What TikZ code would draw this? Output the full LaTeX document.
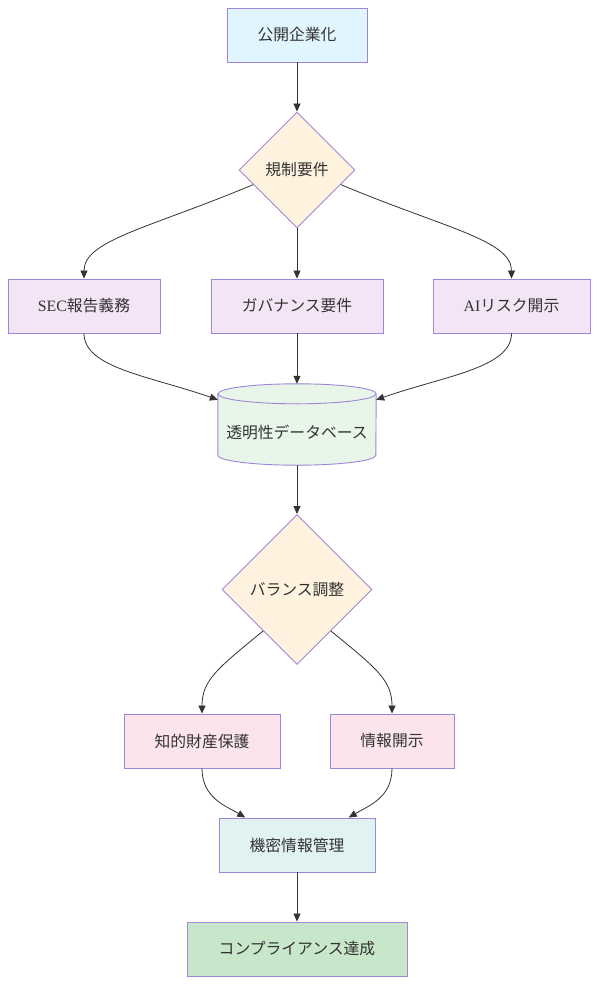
\documentclass[tikz,border=0pt]{standalone}
\usepackage{fontspec}
\setmainfont{Noto Sans CJK JP}
\newfontfamily\latinfont{Liberation Serif}
\usetikzlibrary{arrows.meta,positioning,calc,shapes.geometric}
\definecolor{edge}{HTML}{333333}
\definecolor{rim}{HTML}{9F86D8}
\definecolor{skyfill}{HTML}{E1F5FE}
\definecolor{sandfill}{HTML}{FFF3E0}
\definecolor{lilacfill}{HTML}{F3E5F5}
\definecolor{mintfill}{HTML}{E8F5E9}
\definecolor{rosefill}{HTML}{FCE4EC}
\definecolor{tealfill}{HTML}{E0F2F1}
\definecolor{leaffill}{HTML}{C8E6C9}
\tikzset{
  box/.style={draw=rim, line width=0.9pt, rectangle, align=center,
              minimum height=54pt, inner sep=4pt, text=edge,
              font=\fontsize{15.8}{18}\selectfont},
  decide/.style={draw=rim, fill=sandfill, line width=0.9pt, diamond, aspect=1,
                 inner sep=0pt, align=center, text=edge,
                 font=\fontsize{15.8}{18}\selectfont},
  flow/.style={-{Triangle[length=8pt,width=7pt]}, line width=0.8pt, draw=edge}
}
\begin{document}
\begin{tikzpicture}[x=1pt,y=-1pt]
  \useasboundingbox[fill=white] (0,0) rectangle (598,985);

  % top of the chain
  \node[box, fill=skyfill, minimum width=140pt] (ipo) at (297,35) {公開企業化};
  \node[decide, minimum width=116pt, minimum height=116pt] (reg) at (297,170) {規制要件};

  % three requirements
  \node[box, fill=lilacfill, minimum width=152pt] (sec) at (84,306) {{\latinfont SEC}報告義務};
  \node[box, fill=lilacfill, minimum width=172pt] (gov) at (297,306) {ガバナンス要件};
  \node[box, fill=lilacfill, minimum width=157pt] (aidisc) at (511.5,306) {{\latinfont AI}リスク開示};

  % database
  \node[minimum width=158pt, minimum height=81pt, inner sep=0pt] (db) at (297,424.5) {};
  \draw[rim, fill=mintfill, line width=0.9pt]
    ($(db.north west)+(0,10)$) -- ($(db.south west)+(0,-10)$)
    arc[start angle=180, end angle=0, x radius=79, y radius=10]
    -- ($(db.north east)+(0,10)$)
    arc[start angle=0, end angle=-180, x radius=79, y radius=10] -- cycle;
  \draw[rim, line width=0.9pt] ($(db.north west)+(0,10)$)
    arc[start angle=180, end angle=0, x radius=79, y radius=10];
  \node[text=edge, font=\fontsize{15.8}{18}\selectfont] at ($(db.center)+(0,8)$) {透明性データベース};

  % balancing
  \node[decide, minimum width=150pt, minimum height=150pt] (bal) at (297,589.5) {バランス調整};
  \node[box, fill=rosefill, minimum width=156pt] (ipprot) at (202,741) {知的財産保護};
  \node[box, fill=rosefill, minimum width=124pt] (disc) at (392,741) {情報開示};
  \node[box, fill=tealfill, minimum width=156pt] (conf) at (297,845) {機密情報管理};
  \node[box, fill=leaffill, minimum width=220pt] (comp) at (297,949) {コンプライアンス達成};

  % connectors
  \draw[flow] (ipo) -- (reg);
  \draw[flow] ($(reg.west)!0.25!(reg.south)$) .. controls (150,228) and (84,240) .. (sec.north);
  \draw[flow] (reg.south) -- (gov.north);
  \draw[flow] ($(reg.east)!0.25!(reg.south)$) .. controls (444,228) and (511.5,240) .. (aidisc.north);
  \draw[flow] (sec.south) .. controls (84,368) and (150,376) .. ($(db.north west)+(0,16)$);
  \draw[flow] (gov.south) -- (db.north);
  \draw[flow] (aidisc.south) .. controls (511.5,368) and (444,376) .. ($(db.north east)+(0,16)$);
  \draw[flow] (db.south) -- (bal.north);
  \draw[flow] ($(bal.west)!0.55!(bal.south)$) .. controls (218,668) and (202,680) .. (ipprot.north);
  \draw[flow] ($(bal.east)!0.55!(bal.south)$) .. controls (376,668) and (392,680) .. (disc.north);
  \draw[flow] (ipprot.south) .. controls (202,798) and (226,806) .. ($(conf.north west)!0.17!(conf.north east)$);
  \draw[flow] (disc.south) .. controls (392,798) and (368,806) .. ($(conf.north west)!0.83!(conf.north east)$);
  \draw[flow] (conf) -- (comp);
\end{tikzpicture}
\end{document}
